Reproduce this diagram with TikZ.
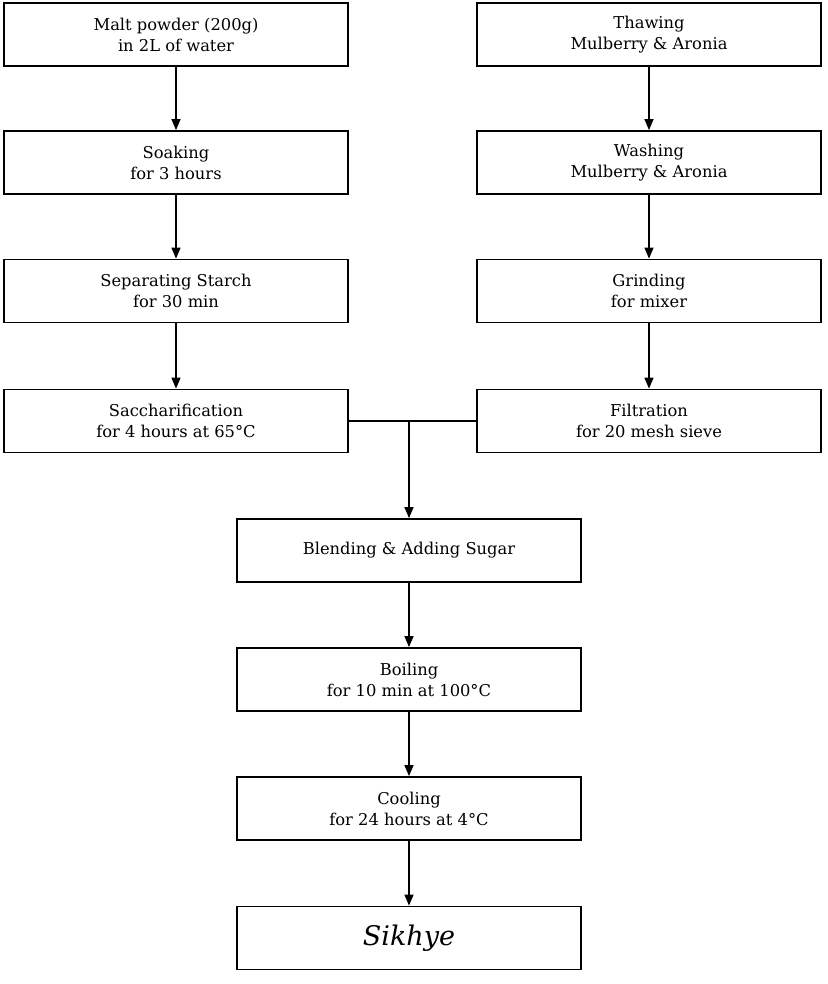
\documentclass[tikz,border=0pt]{standalone}
\usepackage{fontspec}
\setmainfont{DejaVu Serif}
\usetikzlibrary{arrows.meta}
\begin{document}
\begin{tikzpicture}[x=1pt,y=-1pt,
  box/.style={draw=black,line width=1.8pt,minimum width=344pt,minimum height=63pt,inner sep=0pt,align=center,font=\fontsize{16.3}{21}\selectfont},
  arr/.style={line width=1.4pt,-{Triangle[length=11pt,width=9pt]}}]
\useasboundingbox (0,0) rectangle (827,984);
\node[box] (malt) at (176,34.5) {Malt powder (200g)\\in 2L of water};
\node[box] (soak) at (176,162.5) {Soaking\\for 3 hours};
\node[box] (sep) at (176,291) {Separating Starch\\for 30 min};
\node[box] (sac) at (176,421) {Saccharification\\for 4 hours at 65°C};
\node[box] (thaw) at (649,34.5) {Thawing\\Mulberry \& Aronia};
\node[box] (wash) at (649,162.5) {Washing\\Mulberry \& Aronia};
\node[box] (grind) at (649,291) {Grinding\\for mixer};
\node[box] (fil) at (649,421) {Filtration\\for 20 mesh sieve};
\node[box] (blend) at (409,550.5) {Blending \& Adding Sugar};
\node[box] (boil) at (409,679.5) {Boiling\\for 10 min at 100°C};
\node[box] (cool) at (409,808.5) {Cooling\\for 24 hours at 4°C};
\node[box,font=\fontsize{27}{30}\selectfont\itshape] (sik) at (409,938) {Sikhye};
\draw[arr] (malt) -- (soak);
\draw[arr] (soak) -- (sep);
\draw[arr] (sep) -- (sac);
\draw[arr] (thaw) -- (wash);
\draw[arr] (wash) -- (grind);
\draw[arr] (grind) -- (fil);
\draw[line width=1.4pt] (sac.east) -- (fil.west);
\coordinate (j) at (blend.north |- sac.east);
\draw[arr] (j) -- (blend.north);
\draw[arr] (blend) -- (boil);
\draw[arr] (boil) -- (cool);
\draw[arr] (cool) -- (sik);
\end{tikzpicture}
\end{document}
